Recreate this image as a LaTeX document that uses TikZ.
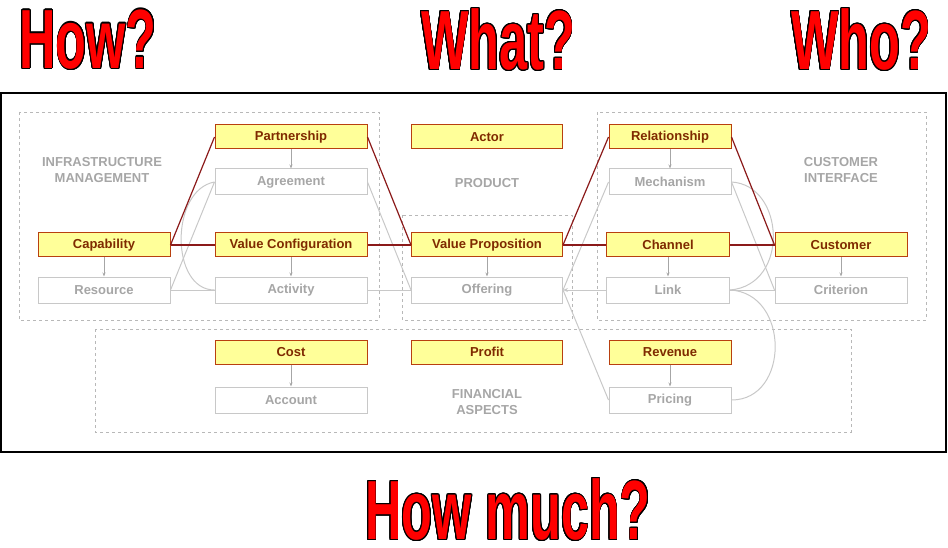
\documentclass[tikz,border=0pt]{standalone}
\usepackage{fontspec}
\setmainfont{Liberation Sans}
\usepackage[copies]{contour}
\usetikzlibrary{arrows.meta}
\contourlength{1.3pt}
\contournumber{24}
\definecolor{yel}{HTML}{FFFF99}
\definecolor{yb}{HTML}{B8400F}
\definecolor{yt}{HTML}{7F2A00}
\definecolor{dr}{HTML}{8B1A1A}
\definecolor{gb}{HTML}{C8C8C8}
\definecolor{gt}{HTML}{A6A6A6}
\definecolor{hr}{HTML}{FF0000}
\begin{document}
\begin{tikzpicture}[x=1pt,y=-1pt,
 yb/.style={draw=yb,line width=1pt,fill=yel,minimum height=24pt,inner sep=0pt,text=yt,font=\bfseries\fontsize{13}{14}\selectfont},
 gb/.style={draw=gb,line width=1pt,fill=white,minimum height=26pt,inner sep=0pt,text=gt,font=\bfseries\fontsize{13}{14}\selectfont},
 grp/.style={draw=gt!80,dashed,line width=0.8pt},
 lbl/.style={text=gt,font=\bfseries\fontsize{13}{16}\selectfont,align=center},
 rl/.style={draw=dr,line width=1.2pt},
 gl/.style={draw=gb,line width=1pt},
 ar/.style={draw=gt,line width=0.8pt,-{Stealth[length=4pt,width=3pt]}},
 head/.style={text=hr,font=\bfseries\fontsize{84}{84}\selectfont,xscale=0.6}]
\useasboundingbox (0,0) rectangle (948,548);
\draw[line width=1.2pt] (1,93) rectangle (946,452);
\draw[grp] (19,112) rectangle (379,320);
\draw[grp] (402,215) rectangle (572,320);
\draw[grp] (597,112) rectangle (926,320);
\draw[grp] (95,329) rectangle (851,432);
\node[lbl] (im) at (102,170) {INFRASTRUCTURE\\MANAGEMENT};
\node[lbl] (pr) at (487,183) {PRODUCT};
\node[lbl] (ci) at (841,170) {CUSTOMER\\INTERFACE};
\node[lbl] (fa) at (487,402) {FINANCIAL\\ASPECTS};
% yellow
\node[yb,minimum width=152pt] (part) at (291,137) {Partnership};
\node[yb,minimum width=132pt] (cap) at (104,245) {Capability};
\node[yb,minimum width=152pt] (vc) at (291,245) {Value Configuration};
\node[yb,minimum width=151pt] (act) at (487,137) {Actor};
\node[yb,minimum width=151pt] (vp) at (487,245) {Value Proposition};
\node[yb,minimum width=122pt] (rel) at (670,137) {Relationship};
\node[yb,minimum width=123pt] (ch) at (668,245) {Channel};
\node[yb,minimum width=132pt] (cu) at (841,245) {Customer};
\node[yb,minimum width=152pt] (cost) at (291,352) {Cost};
\node[yb,minimum width=151pt] (prof) at (487,352) {Profit};
\node[yb,minimum width=122pt] (rev) at (670,352) {Revenue};
% gray
\node[gb,minimum width=152pt] (agr) at (291,182) {Agreement};
\node[gb,minimum width=132pt] (res) at (104,290) {Resource};
\node[gb,minimum width=152pt] (acty) at (291,290) {Activity};
\node[gb,minimum width=151pt] (off) at (487,290) {Offering};
\node[gb,minimum width=122pt] (mech) at (670,182) {Mechanism};
\node[gb,minimum width=123pt] (link) at (668,290) {Link};
\node[gb,minimum width=132pt] (crit) at (841,290) {Criterion};
\node[gb,minimum width=152pt] (acc) at (291,400) {Account};
\node[gb,minimum width=122pt] (pri) at (670,400) {Pricing};
% down arrows
\foreach \a/\b in {part/agr,cap/res,vc/acty,vp/off,rel/mech,ch/link,cu/crit,cost/acc,rev/pri}
  \draw[ar] (\a.south) -- (\b.north);
% gray links
\draw[gl] (res.east) -- (agr.west);
\draw[gl] (res.east) -- (acty.west);
\draw[gl] (agr.west) .. controls (170,190) and (170,290) .. (acty.west);
\draw[gl] (agr.east) -- (off.west);
\draw[gl] (acty.east) -- (off.west);
\draw[gl] (mech.west) -- (off.east);
\draw[gl] (pri.west) -- (off.east);
\draw[gl,-{Stealth[length=5pt,width=4pt]}] (link.west) -- (off.east);
\draw[gl] (mech.east) -- (crit.west);
\draw[gl] (link.east) -- (crit.west);
\draw[gl] (mech.east) .. controls (785,185) and (790,285) .. (link.east);
\draw[gl] (link.east) .. controls (790,293) and (790,400) .. (pri.east);
% red links
\draw[rl] (cap.east) -- (part.west);
\draw[rl] (cap.east) -- (vc.west);
\draw[rl] (part.east) -- (vp.west);
\draw[rl] (vc.east) -- (vp.west);
\draw[rl] (vp.east) -- (rel.west);
\draw[rl] (vp.east) -- (ch.west);
\draw[rl] (rel.east) -- (cu.west);
\draw[rl] (ch.east) -- (cu.west);
% headings
\node[head] (h1) at (88,40) {\contour{black}{How?}};
\node[head] (h2) at (498,40) {\contour{black}{What?}};
\node[head] (h3) at (861,40) {\contour{black}{Who?}};
\node[head] (h4) at (508,510) {\contour{black}{How much?}};
\end{tikzpicture}
\end{document}
